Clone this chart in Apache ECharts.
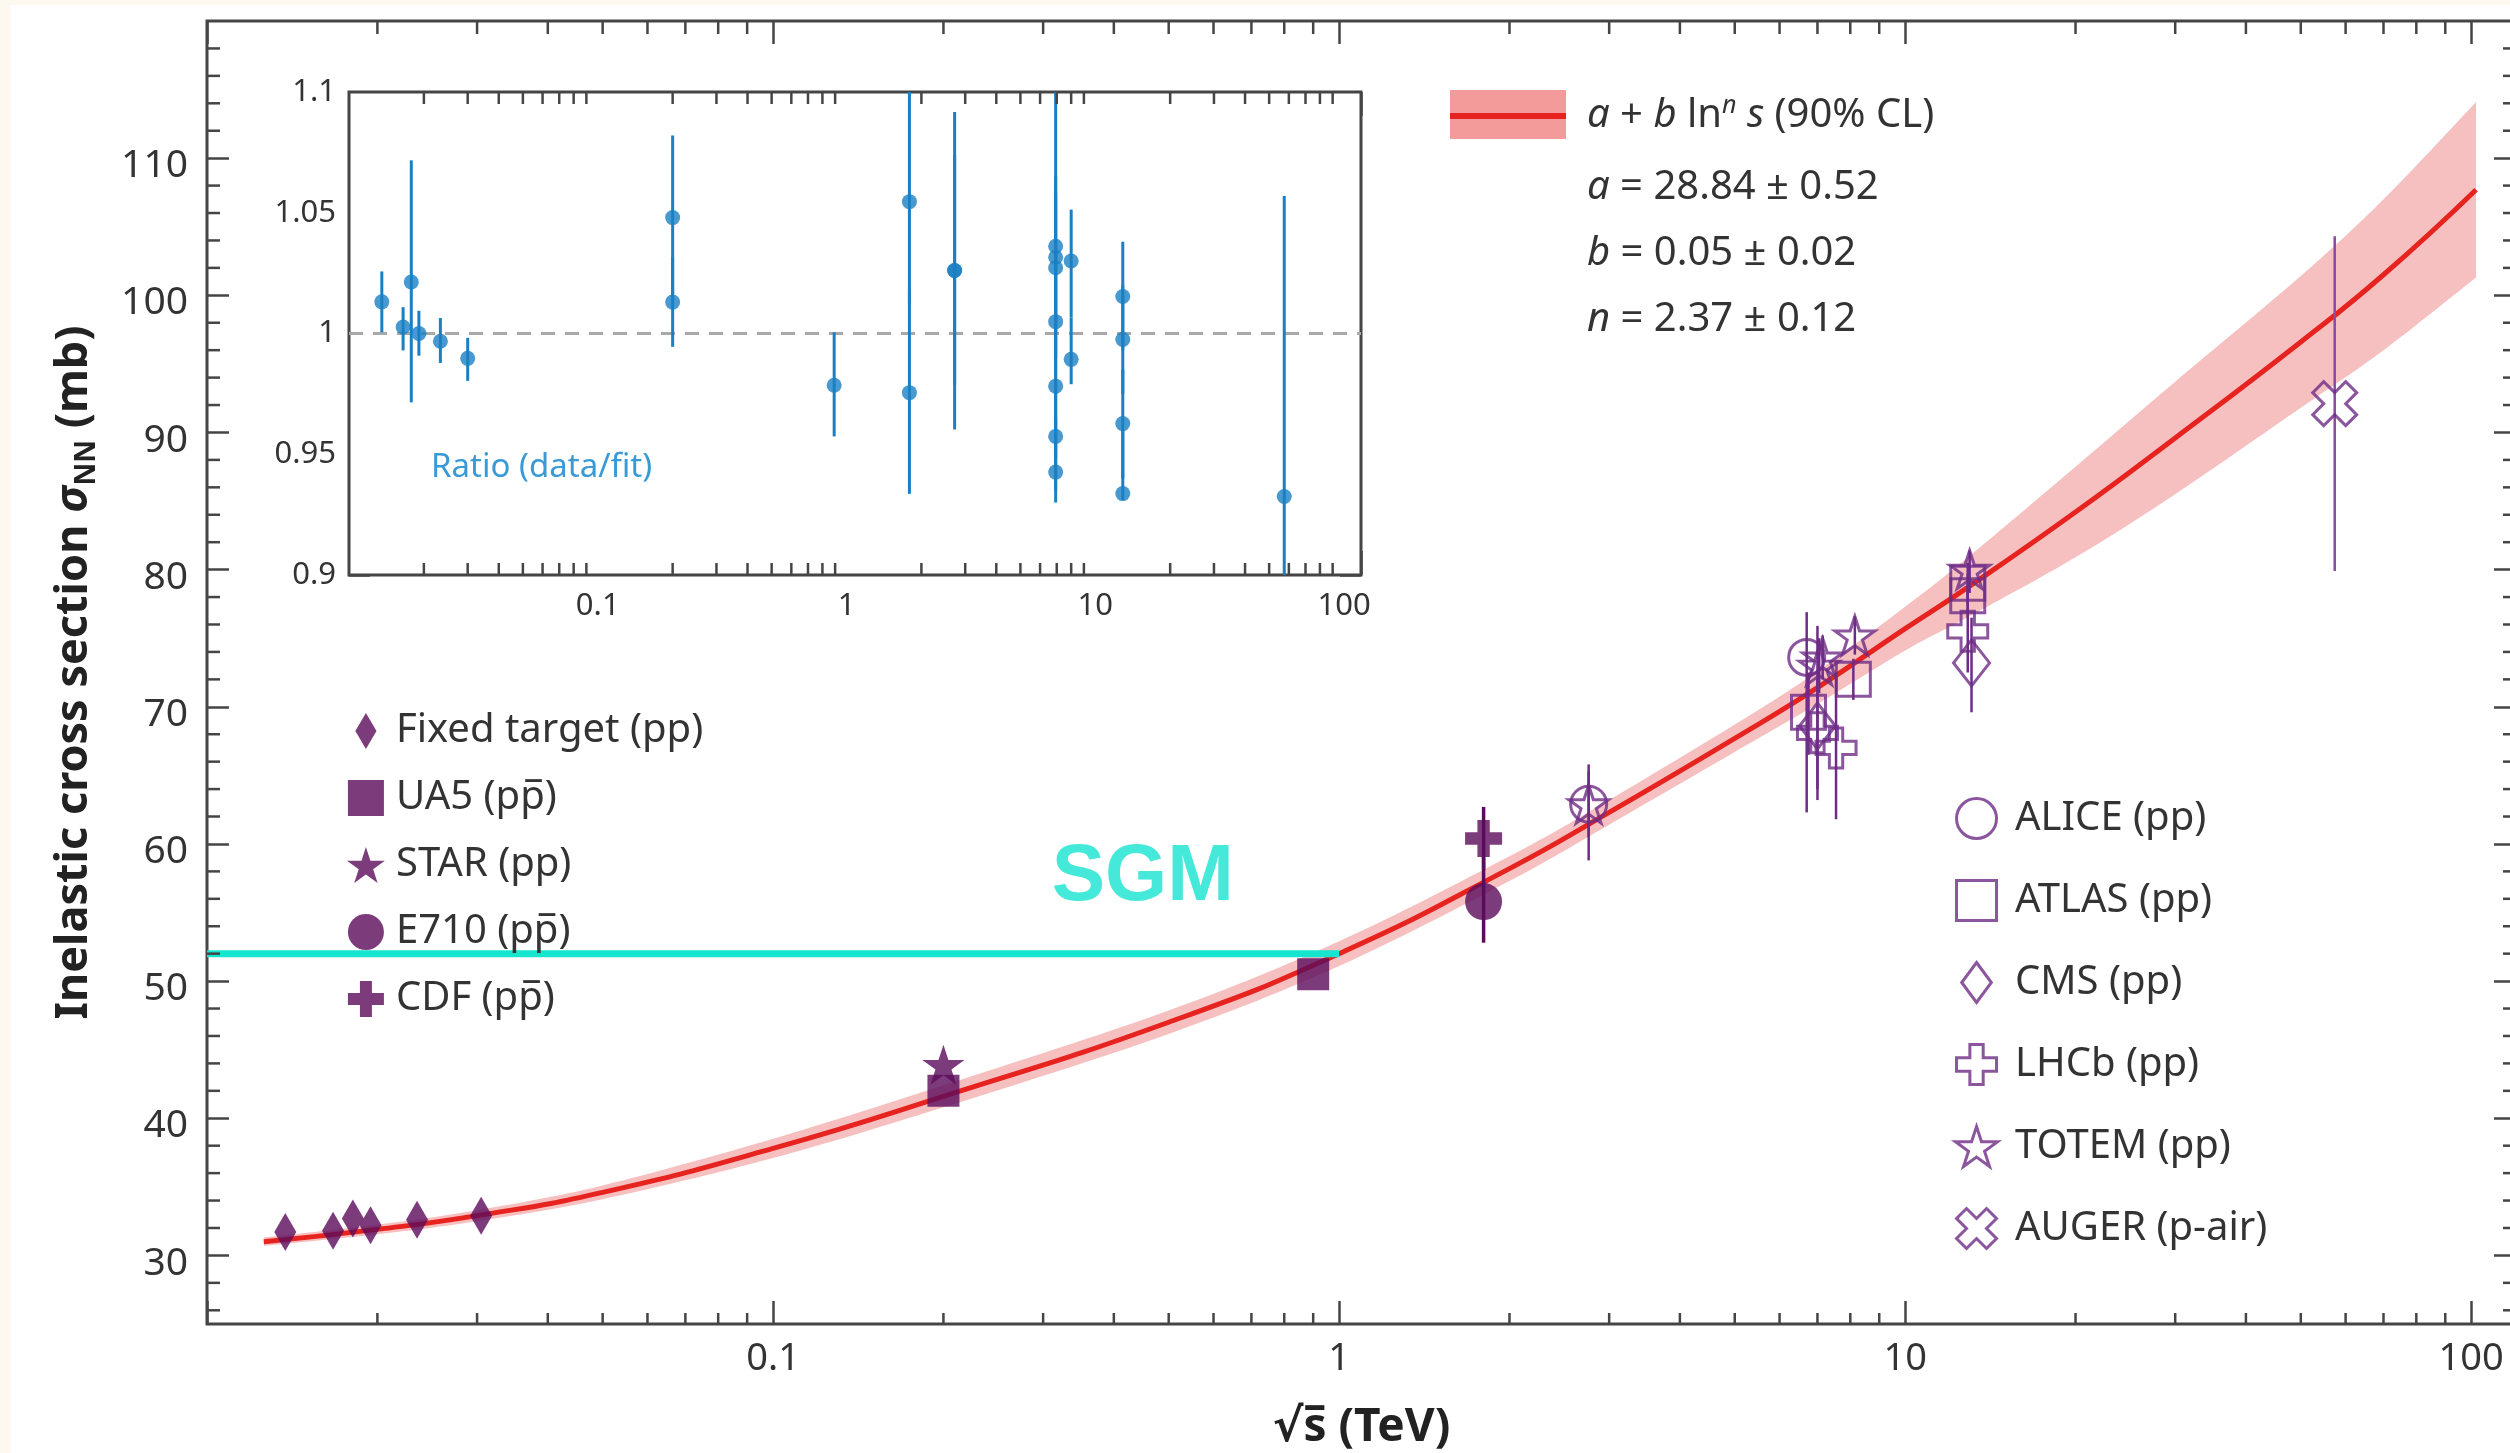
<!DOCTYPE html>
<html>
<head>
<meta charset="utf-8">
<title>Inelastic cross section vs sqrt(s)</title>
<script src="https://cdn.jsdelivr.net/npm/echarts@6.0.0/dist/echarts.min.js"></script>
<style>
html, body { margin: 0; padding: 0; background: #ffffff; }
#chart { width: 2510px; height: 1453px; }
</style>
</head>
<body>
<div id="chart"></div>
<script>
// ======================= DATA =======================
// Fit curve a + b ln^n s with its 90% CL band (sqrt(s) in TeV, sigma in mb)
const fitX     = [0.0126, 0.02, 0.03, 0.05, 0.1, 0.2, 0.5, 1, 2, 3, 5, 7, 10, 13, 20, 30, 50, 70, 102];
const fitY     = [31.0, 31.9, 32.9, 34.6, 37.8, 41.6, 47.0, 52.0, 58.2, 62.3, 67.7, 71.4, 75.7, 78.8, 84.2, 89.6, 96.6, 101.5, 107.7];
const bandLow  = [30.7, 31.55, 32.5, 34.1, 37.1, 40.8, 46.15, 51.1, 57.3, 61.4, 66.7, 70.2, 74.1, 76.6, 80.9, 85.5, 91.8, 96.0, 101.3];
const bandHigh = [31.3, 32.25, 33.3, 35.1, 38.5, 42.4, 47.85, 52.9, 59.1, 63.2, 68.7, 72.6, 77.3, 81.0, 87.5, 93.7, 101.4, 107.0, 114.1];

// Filled-symbol experiments
const fixedX = [0.01375, 0.0167, 0.0181, 0.01945, 0.0235, 0.0305];
const fixedY = [31.7, 31.8, 32.7, 32.2, 32.6, 32.9];
const ua5X = [0.2, 0.9];
const ua5Y = [42.0, 50.5];
const starX = [0.2];
const starY = [43.9];
const e710X = [1.8];
const e710Y = [55.8];
const e710Lo = [52.8];
const e710Hi = [59.1];
const cdfX = [1.8];
const cdfY = [60.4];
const cdfLo = [58.1];
const cdfHi = [62.7];

// Open-symbol experiments
const aliceX = [2.76, 6.7];
const aliceY = [62.9, 73.6];
const aliceLo = [58.8, 62.3];
const aliceHi = [65.8, 76.9];
const atlasX = [6.75, 8.1, 12.9, 12.9];
const atlasY = [69.6, 72.0, 79.0, 78.1];
const atlasLo = [66.5, 70.5, 77.5, 76.5];
const atlasHi = [72.5, 73.5, 80.5, 79.7];
const cmsX = [7.0, 13.1];
const cmsY = [68.6, 73.2];
const cmsLo = [63.2, 69.6];
const cmsHi = [75.9, 76.5];
const lhcbX = [7.0, 7.55, 12.9];
const lhcbY = [68.1, 67.0, 75.5];
const lhcbLo = [64.0, 61.8, 72.5];
const lhcbHi = [72.0, 72.5, 78.5];
const totemX = [2.76, 7.05, 7.15, 8.15, 13.0];
const totemY = [62.9, 73.0, 73.6, 75.2, 80.0];
const totemLo = [60.5, 71.0, 72.0, 73.8, 78.3];
const totemHi = [65.3, 75.0, 75.2, 76.6, 81.4];
const augerX = [57.4];
const augerY = [92.1];
const augerLo = [79.9];
const augerHi = [104.3];

// SGM marker line and its label
const sgmX = [0.01, 1];
const sgmY = [52, 52];
const sgmTextX = 0.45;
const sgmTextY = 57.5;

// Inset: ratio data / fit
const ratioX  = [0.01355, 0.0165, 0.0178, 0.0191, 0.0233, 0.0300, 0.2, 0.2, 0.892, 1.79, 1.79, 2.72, 2.72,
                 6.93, 6.93, 6.93, 6.93, 6.93, 6.93, 6.93, 8.0, 8.0, 12.9, 12.9, 12.9, 12.9, 57.5];
const ratioY  = [1.0131, 1.0027, 1.0213, 1.0000, 0.9968, 0.9897, 1.048, 1.013, 0.9786, 1.0546, 0.9755, 1.0261, 1.0261,
                 1.0361, 1.0316, 1.0272, 1.0049, 0.9782, 0.9574, 0.9426, 1.030, 0.9893, 1.0153, 0.9975, 0.9627, 0.9337, 0.9325];
const ratioLo = [1.0005, 0.993, 0.9715, 0.9908, 0.9878, 0.9804, 1.014, 0.9945, 0.9574, 1.012, 0.9336, 0.9603, 0.9789,
                 1.000, 1.005, 0.990, 0.975, 0.948, 0.935, 0.930, 1.0066, 0.979, 0.993, 0.975, 0.940, 0.931, 0.880];
const ratioHi = [1.0257, 1.0109, 1.0717, 1.0094, 1.0064, 0.9982, 1.082, 1.0317, 1.0005, 1.110, 1.0182, 1.0917, 1.0739,
                 1.110, 1.058, 1.065, 1.035, 1.008, 0.980, 0.965, 1.0513, 1.0066, 1.038, 1.020, 0.985, 0.960, 1.0569];
const ratioRef = [1, 1];

// Ticks and labels
const mainXLabels = [0.1, 1, 10, 100];
const xMinorTicks = [0.02, 0.03, 0.04, 0.05, 0.06, 0.07, 0.08, 0.09,
                     0.2, 0.3, 0.4, 0.5, 0.6, 0.7, 0.8, 0.9,
                     2, 3, 4, 5, 6, 7, 8, 9,
                     20, 30, 40, 50, 60, 70, 80, 90];
const mainYMajor = [30, 40, 50, 60, 70, 80, 90, 100, 110];
const mainYMinor = [26, 28, 32, 34, 36, 38, 42, 44, 46, 48, 52, 54, 56, 58, 62, 64, 66, 68,
                    72, 74, 76, 78, 82, 84, 86, 88, 92, 94, 96, 98, 102, 104, 106, 108, 112, 114, 116, 118];
const insetXLabels = [0.1, 1, 10, 100];
const insetYTicks = [0.9, 0.95, 1, 1.05, 1.1];

// Text
const fitParams = ['{i|a} = 28.84 ± 0.52', '{i|b} = 0.05 ± 0.02', '{i|n} = 2.37 ± 0.12'];

// ======================= STYLE =======================
const FONT = "'Noto Sans', 'DejaVu Sans', sans-serif";
const TXT = '#333333';
const AX = '#454545';
const PFILL = '#5b0b5b';
const POPEN = '#6e2c86';
const RED = '#e6231f';
const BAND = '#f6c0c0';
const SWATCH = '#f39a9a';
const TEAL = '#15e4cf';
const BLUE = '#1a7fc3';
const CREAM = '#fdf8f0';

const SYM_STAR = 'path://M0,-1L0.2245,-0.309L0.951,-0.309L0.363,0.118L0.588,0.809L0,0.382L-0.588,0.809L-0.363,0.118L-0.951,-0.309L-0.2245,-0.309Z';
const SYM_PLUS = 'path://M-1,-3L1,-3L1,-1L3,-1L3,1L1,1L1,3L-1,3L-1,1L-3,1L-3,-1L-1,-1Z';
const SYM_X = 'path://M1.414,-2.828L2.828,-1.414L1.414,0L2.828,1.414L1.414,2.828L0,1.414L-1.414,2.828L-2.828,1.414L-1.414,0L-2.828,-1.414L-1.414,-2.828L0,-1.414Z';
const SYM_TALLDIAMOND = 'path://M0,-1.7L1,0L0,1.7L-1,0Z';
const SYM_DIAMOND = 'path://M0,-1.35L1,0L0,1.35L-1,0Z';
const SYM_SQUARE = 'path://M-1,-1L1,-1L1,1L-1,1Z';

const MAIN_X_MIN = 0.01, MAIN_X_MAX = 120, MAIN_Y_MIN = 25, MAIN_Y_MAX = 120;
const INSET_X_MIN = 0.01, INSET_X_MAX = 117, INSET_Y_MIN = 0.9, INSET_Y_MAX = 1.1;

const NAME_UA5 = 'UA5 (pp\u0305)';
const NAME_E710 = 'E710 (pp\u0305)';
const NAME_CDF = 'CDF (pp\u0305)';

// ======================= HELPERS =======================
function pairs(xs, ys) { return xs.map((x, i) => [x, ys[i]]); }
function logLabel(list) {
  return function (v) {
    for (const l of list) {
      if (Math.abs(Math.log10(v) - Math.log10(l)) < 1e-6) return String(l);
    }
    return '';
  };
}
// Catmull-Rom spline through pixel points -> SVG path commands (no leading M)
function splineCmds(pts) {
  let d = '';
  for (let i = 0; i < pts.length - 1; i++) {
    const p0 = pts[Math.max(0, i - 1)], p1 = pts[i], p2 = pts[i + 1], p3 = pts[Math.min(pts.length - 1, i + 2)];
    const c1 = [p1[0] + (p2[0] - p0[0]) / 6, p1[1] + (p2[1] - p0[1]) / 6];
    const c2 = [p2[0] - (p3[0] - p1[0]) / 6, p2[1] - (p3[1] - p1[1]) / 6];
    d += 'C' + c1[0] + ',' + c1[1] + ' ' + c2[0] + ',' + c2[1] + ' ' + p2[0] + ',' + p2[1];
  }
  return d;
}
function scatter(name, xs, ys, symbol, size, filled, z) {
  return {
    type: 'scatter', name: name, xAxisIndex: 0, yAxisIndex: 0, z: z || 5, silent: true,
    data: pairs(xs, ys), symbol: symbol, symbolSize: size,
    itemStyle: filled ? { color: PFILL } : { color: 'rgba(0,0,0,0)', borderColor: POPEN, borderWidth: 3 },
    emphasis: { disabled: true }
  };
}
function errBars(name, xs, los, his, color, width, xi, yi, clip) {
  const data = [];
  xs.forEach((x, i) => { if (los[i] != null && his[i] != null) data.push([x, los[i], his[i]]); });
  return {
    type: 'custom', name: name, xAxisIndex: xi, yAxisIndex: yi, silent: true, clip: !!clip, z: 4,
    encode: { x: 0, y: [1, 2] }, data: data,
    renderItem: function (params, api) {
      const p1 = api.coord([api.value(0), api.value(1)]);
      const p2 = api.coord([api.value(0), api.value(2)]);
      return { type: 'line', shape: { x1: p1[0], y1: p1[1], x2: p2[0], y2: p2[1] },
               style: { stroke: color, lineWidth: width } };
    }
  };
}
function xMinor(values, xi, yi, yRef, lenB, lenT) {
  return {
    type: 'custom', xAxisIndex: xi, yAxisIndex: yi, silent: true, z: 6,
    encode: { x: 0, y: 1 }, data: values.map(v => [v, yRef]),
    renderItem: function (params, api) {
      const cs = params.coordSys;
      const x = api.coord([api.value(0), api.value(1)])[0];
      const b = cs.y + cs.height, t = cs.y;
      return { type: 'group', children: [
        { type: 'line', shape: { x1: x, y1: b, x2: x, y2: b - lenB }, style: { stroke: AX, lineWidth: 2.5 } },
        { type: 'line', shape: { x1: x, y1: t, x2: x, y2: t + lenT }, style: { stroke: AX, lineWidth: 2.5 } }
      ] };
    }
  };
}
function yMinor(values, xi, yi, xRef, len) {
  return {
    type: 'custom', xAxisIndex: xi, yAxisIndex: yi, silent: true, z: 6,
    encode: { x: 0, y: 1 }, data: values.map(v => [xRef, v]),
    renderItem: function (params, api) {
      const cs = params.coordSys;
      const y = api.coord([api.value(0), api.value(1)])[1];
      const l = cs.x, r = cs.x + cs.width;
      return { type: 'group', children: [
        { type: 'line', shape: { x1: l, y1: y, x2: l + len, y2: y }, style: { stroke: AX, lineWidth: 2.5 } },
        { type: 'line', shape: { x1: r, y1: y, x2: r - len, y2: y }, style: { stroke: AX, lineWidth: 2.5 } }
      ] };
    }
  };
}

// ======================= SERIES =======================
const series = [];
// 90% CL band: one closed smooth shape through the band edges
series.push({
  type: 'custom', name: 'band', xAxisIndex: 0, yAxisIndex: 0, silent: true, z: 1,
  encode: { x: 0, y: [1, 2] },
  data: fitX.map((x, i) => [x, bandLow[i], bandHigh[i]]),
  renderItem: function (params, api) {
    if (params.dataIndex !== 0) return null;
    const up = fitX.map((x, i) => api.coord([x, bandHigh[i]]));
    const lo = fitX.map((x, i) => api.coord([x, bandLow[i]])).reverse();
    const d = 'M' + up[0][0] + ',' + up[0][1] + splineCmds(up) +
              'L' + lo[0][0] + ',' + lo[0][1] + splineCmds(lo) + 'Z';
    return { type: 'path', shape: { pathData: d }, style: { fill: BAND } };
  }
});
series.push({
  type: 'line', name: 'fit', xAxisIndex: 0, yAxisIndex: 0, smooth: true, symbol: 'none', silent: true,
  lineStyle: { color: RED, width: 5 }, itemStyle: { color: RED }, data: pairs(fitX, fitY), z: 2
});
// SGM annotation
series.push({
  type: 'line', name: 'SGM', xAxisIndex: 0, yAxisIndex: 0, symbol: 'none', silent: true,
  lineStyle: { color: TEAL, width: 7 }, data: pairs(sgmX, sgmY), z: 3
});
series.push({
  type: 'scatter', name: 'SGM label', xAxisIndex: 0, yAxisIndex: 0, silent: true, z: 3,
  data: [[sgmTextX, sgmTextY]], symbolSize: 1, itemStyle: { color: 'rgba(0,0,0,0)' },
  label: { show: true, position: 'inside', formatter: 'SGM', color: TEAL, fontSize: 80, fontWeight: 'bold',
           fontFamily: "'Liberation Sans', Arial, sans-serif" }
});
// error bars
series.push(errBars('err-filled', e710X.concat(cdfX), e710Lo.concat(cdfLo), e710Hi.concat(cdfHi), PFILL, 3.5, 0, 0));
series.push(errBars('err-open',
  aliceX.concat(atlasX, cmsX, lhcbX, totemX),
  aliceLo.concat(atlasLo, cmsLo, lhcbLo, totemLo),
  aliceHi.concat(atlasHi, cmsHi, lhcbHi, totemHi), POPEN, 2.5, 0, 0));
series.push(errBars('err-auger', augerX, augerLo, augerHi, '#8a4a9c', 2.5, 0, 0));
// data points
series.push(scatter('Fixed target (pp)', fixedX, fixedY, SYM_TALLDIAMOND, [22, 38], true));
series.push(scatter(NAME_UA5, ua5X, ua5Y, SYM_SQUARE, 32, true));
series.push(scatter('STAR (pp)', starX, starY, SYM_STAR, [42, 40], true, 6));
series.push(scatter(NAME_E710, e710X, e710Y, 'circle', 37, true));
series.push(scatter(NAME_CDF, cdfX, cdfY, SYM_PLUS, 37, true));
series.push(scatter('ALICE (pp)', aliceX, aliceY, 'circle', 36, false));
series.push(scatter('ATLAS (pp)', atlasX, atlasY, SYM_SQUARE, 34, false));
series.push(scatter('CMS (pp)', cmsX, cmsY, SYM_DIAMOND, [36, 46], false));
series.push(scatter('LHCb (pp)', lhcbX, lhcbY, SYM_PLUS, 40, false));
series.push(scatter('TOTEM (pp)', totemX, totemY, SYM_STAR, [40, 38], false));
series.push(scatter('AUGER (p-air)', augerX, augerY, SYM_X, 44, false));
// main minor ticks
series.push(xMinor(xMinorTicks, 0, 0, MAIN_Y_MIN, 11, 13));
series.push(yMinor(mainYMinor, 0, 0, MAIN_X_MIN, 13));
// inset
series.push({
  type: 'line', name: 'ratio-ref', xAxisIndex: 2, yAxisIndex: 2, symbol: 'none', silent: true, z: 2,
  lineStyle: { color: '#a9a9a9', width: 3, type: [14, 10] },
  data: pairs([INSET_X_MIN, INSET_X_MAX], ratioRef)
});
series.push(errBars('ratio-err', ratioX, ratioLo, ratioHi, BLUE, 3, 2, 2, true));
series.push({
  type: 'scatter', name: 'ratio', xAxisIndex: 2, yAxisIndex: 2, silent: true, z: 5,
  symbol: 'circle', symbolSize: 15, itemStyle: { color: BLUE }, data: pairs(ratioX, ratioY)
});
series.push(xMinor(xMinorTicks, 2, 2, INSET_Y_MIN, 12, 12));

// ======================= AXES =======================
const tickLine = { color: AX, width: 2.5 };
const xTitle = '\u221As\u0305 (TeV)';
const yTitle = 'Inelastic cross section {s|\u03C3}{sub|NN} (mb)';

const option = {
  animation: false,
  backgroundColor: '#ffffff',
  textStyle: { fontFamily: FONT },
  grid: [
    { left: 207, top: 21, width: 2309, height: 1303, show: true, backgroundColor: '#ffffff',
      borderColor: AX, borderWidth: 3, containLabel: false, outerBoundsMode: 'none', z: 0 },
    { left: 349, top: 92, width: 1012, height: 483, show: true, backgroundColor: '#ffffff',
      borderColor: AX, borderWidth: 3, containLabel: false, outerBoundsMode: 'none', z: 1 }
  ],
  xAxis: [
    { gridIndex: 0, type: 'log', logBase: 10, min: MAIN_X_MIN, max: MAIN_X_MAX, position: 'bottom',
      axisLine: { show: false }, splitLine: { show: false },
      axisTick: { show: true, inside: true, length: 23, lineStyle: tickLine },
      axisLabel: { show: true, formatter: logLabel(mainXLabels), fontSize: 38, color: TXT, fontFamily: FONT, margin: 16 },
      name: xTitle, nameLocation: 'middle', nameGap: 78, nameMoveOverlap: false,
      nameTextStyle: { fontSize: 46, fontWeight: 'bold', color: '#222', fontFamily: FONT, lineHeight: 52 } },
    { gridIndex: 0, type: 'log', logBase: 10, min: MAIN_X_MIN, max: MAIN_X_MAX, position: 'top',
      axisLine: { show: false }, splitLine: { show: false },
      axisTick: { show: true, inside: true, length: 23, lineStyle: tickLine },
      axisLabel: { show: false } },
    { gridIndex: 1, type: 'log', logBase: 10, min: INSET_X_MIN, max: INSET_X_MAX, position: 'bottom',
      axisLine: { show: false }, splitLine: { show: false },
      axisTick: { show: true, inside: true, length: 24, lineStyle: tickLine },
      axisLabel: { show: true, formatter: logLabel(insetXLabels), fontSize: 31, color: TXT, fontFamily: FONT, margin: 16 } },
    { gridIndex: 1, type: 'log', logBase: 10, min: INSET_X_MIN, max: INSET_X_MAX, position: 'top',
      axisLine: { show: false }, splitLine: { show: false },
      axisTick: { show: true, inside: true, length: 24, lineStyle: tickLine },
      axisLabel: { show: false } }
  ],
  yAxis: [
    { gridIndex: 0, type: 'value', min: MAIN_Y_MIN, max: MAIN_Y_MAX, position: 'left',
      axisLine: { show: false }, splitLine: { show: false },
      axisTick: { show: true, inside: true, length: 22, lineStyle: tickLine, customValues: mainYMajor },
      axisLabel: { show: true, customValues: mainYMajor, color: TXT, margin: 19,
                   formatter: v => '{t|' + v + '}',
                   rich: { t: { fontSize: 39, color: TXT, fontFamily: FONT, padding: [16, 0, 0, 0] } } },
      name: yTitle, nameLocation: 'middle', nameGap: 106, nameRotate: 90, nameMoveOverlap: false,
      nameTextStyle: { fontSize: 45, fontWeight: 'bold', color: '#222', fontFamily: FONT, lineHeight: 54,
        rich: {
          s: { fontSize: 45, fontStyle: 'italic', fontWeight: 'bold', color: '#222', fontFamily: FONT, lineHeight: 54 },
          sub: { fontSize: 28, fontWeight: 'bold', color: '#222', fontFamily: FONT, verticalAlign: 'bottom', lineHeight: 28 }
        } } },
    { gridIndex: 0, type: 'value', min: MAIN_Y_MIN, max: MAIN_Y_MAX, position: 'right',
      axisLine: { show: false }, splitLine: { show: false },
      axisTick: { show: true, inside: true, length: 22, lineStyle: tickLine, customValues: mainYMajor },
      axisLabel: { show: false } },
    { gridIndex: 1, type: 'value', min: INSET_Y_MIN, max: INSET_Y_MAX, position: 'left',
      axisLine: { show: false }, splitLine: { show: false },
      axisTick: { show: true, inside: true, length: 21, lineStyle: tickLine, customValues: insetYTicks },
      axisLabel: { show: true, customValues: insetYTicks, formatter: v => String(v), fontSize: 31, color: TXT, fontFamily: FONT, margin: 13 } },
    { gridIndex: 1, type: 'value', min: INSET_Y_MIN, max: INSET_Y_MAX, position: 'right',
      axisLine: { show: false }, splitLine: { show: false },
      axisTick: { show: true, inside: true, length: 21, lineStyle: tickLine, customValues: insetYTicks },
      axisLabel: { show: false } }
  ],
  legend: [
    { orient: 'vertical', left: 347, top: 711, padding: 0, itemWidth: 50, itemHeight: 36, itemGap: 27,
      selectedMode: false,
      data: ['Fixed target (pp)', NAME_UA5, 'STAR (pp)', NAME_E710, NAME_CDF],
      itemStyle: { borderWidth: 0 },
      textStyle: { fontSize: 40, color: TXT, fontFamily: FONT } },
    { orient: 'vertical', left: 1954, top: 797, padding: 0, itemWidth: 67, itemHeight: 40, itemGap: 39,
      selectedMode: false,
      data: ['ALICE (pp)', 'ATLAS (pp)', 'CMS (pp)', 'LHCb (pp)', 'TOTEM (pp)', 'AUGER (p-air)'],
      itemStyle: { borderWidth: 3 },
      textStyle: { fontSize: 40, color: TXT, fontFamily: FONT } },
    { orient: 'vertical', left: 1450, top: 93, padding: 0, itemWidth: 116, itemHeight: 6,
      selectedMode: false, data: [{ name: 'fit', icon: 'rect' }],
      itemStyle: { color: RED, borderWidth: 0 },
      formatter: function () { return '{g|}{i|a} + {i|b} ln{sup|n} {i|s} (90% CL)'; },
      textStyle: { fontSize: 40, color: TXT, fontFamily: FONT, lineHeight: 46,
        rich: {
          g: { width: 16 },
          i: { fontSize: 40, fontStyle: 'italic', color: TXT, fontFamily: FONT, lineHeight: 46 },
          sup: { fontSize: 25, fontStyle: 'italic', color: TXT, fontFamily: FONT, verticalAlign: 'top', lineHeight: 25 }
        } } }
  ],
  graphic: [
    { type: 'rect', left: 0, top: 0, shape: { width: 11, height: 1453 }, style: { fill: CREAM }, silent: true, z: 0 },
    { type: 'rect', left: 0, top: 0, shape: { width: 2510, height: 5 }, style: { fill: CREAM }, silent: true, z: 0 },
    { type: 'rect', x: 1450, y: 90, shape: { width: 116, height: 49 }, style: { fill: SWATCH }, silent: true, z: 1 },
    { type: 'text', x: 1587, y: 188, silent: true, z: 5,
      style: { text: fitParams[0], fontSize: 40, fontFamily: FONT, fill: TXT, verticalAlign: 'middle',
               rich: { i: { fontSize: 40, fontStyle: 'italic', fontFamily: FONT, fill: TXT } } } },
    { type: 'text', x: 1587, y: 254, silent: true, z: 5,
      style: { text: fitParams[1], fontSize: 40, fontFamily: FONT, fill: TXT, verticalAlign: 'middle',
               rich: { i: { fontSize: 40, fontStyle: 'italic', fontFamily: FONT, fill: TXT } } } },
    { type: 'text', x: 1587, y: 320, silent: true, z: 5,
      style: { text: fitParams[2], fontSize: 40, fontFamily: FONT, fill: TXT, verticalAlign: 'middle',
               rich: { i: { fontSize: 40, fontStyle: 'italic', fontFamily: FONT, fill: TXT } } } },
    { type: 'text', x: 431, y: 468, silent: true, z: 5,
      style: { text: 'Ratio (data/fit)', fontSize: 33, fontFamily: FONT, fill: '#3a9ad6', verticalAlign: 'middle' } }
  ],
  series: series
};

const chart = echarts.init(document.getElementById('chart'), null, { renderer: 'canvas' });
chart.setOption(option);
</script>
</body>
</html>
